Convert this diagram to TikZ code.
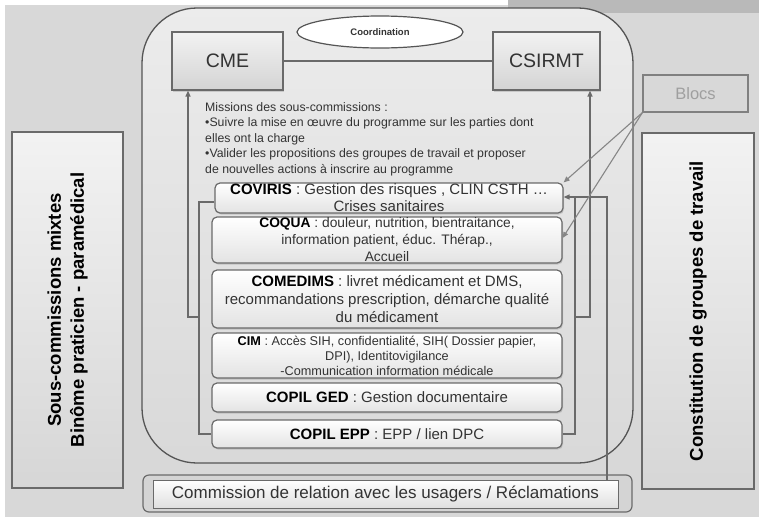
\documentclass[tikz,border=0pt]{standalone}
\usepackage{fontspec}
\setmainfont{Liberation Sans}
\usetikzlibrary{shadows,arrows.meta,calc,shapes.geometric}

\definecolor{bgc}{HTML}{D8D8D8}
\definecolor{edge}{HTML}{6A6A6A}
\definecolor{frame}{HTML}{555555}
\definecolor{ink}{HTML}{333333}
\newcommand\setfs[2]{\fontsize{#1}{#2}\selectfont}

\begin{document}
\begin{tikzpicture}[x=1pt,y=-1pt,
  conn/.style={draw=edge, line width=1.3pt},
  tip/.style={-{Triangle[length=6pt,width=5pt]}},
  subbox/.style={draw=edge, line width=1.2pt, rounded corners=5pt,
    top color=white, bottom color=gray!22, minimum width=350pt,
    inner sep=0pt, align=center, text=ink,
    drop shadow={shadow xshift=1pt, shadow yshift=-1.5pt, opacity=0.3}},
  topbox/.style={draw=edge, line width=1.2pt, top color=gray!10,
    bottom color=gray!34, inner sep=0pt, minimum height=58pt,
    font=\setfs{19.5}{22}, text=ink,
    drop shadow={shadow xshift=1pt, shadow yshift=-1.5pt, opacity=0.3}},
  sidebox/.style={draw=edge, line width=1.2pt, top color=gray!10,
    bottom color=gray!32, inner sep=0pt, minimum width=111pt,
    minimum height=356pt},
  sidetext/.style={rotate=90, align=center, text=black,
    font=\bfseries\setfs{18.5}{23}}
]
% page and background
\fill[white] (0,0) rectangle (759,517);
\fill[bgc] (5,5) rectangle (759,517);
\fill[gray!55] (508,0) rectangle (759,13);

% large rounded frame
\draw[frame, line width=1.3pt, rounded corners=55pt, top color=gray!15,
  bottom color=gray!30] (142,8) rectangle (633,463);

% top committees
\node[topbox, minimum width=111pt] (cme) at (227.5,61) {CME};
\node[topbox, minimum width=107pt] (csirmt) at (546.5,61) {CSIRMT};
\draw[conn] (cme) -- (csirmt);
\node[draw=frame, line width=1.2pt, fill=white, ellipse, minimum width=166pt,
  minimum height=32pt, inner sep=0pt, font=\bfseries\setfs{9.5}{11}, text=ink]
  (coord) at (380,32) {Coordination};

% missions text
\node[anchor=north west, inner sep=0pt, align=left, text=ink,
  font=\setfs{12.3}{15.5}] (missions) at (205,102)
  {Missions des sous-commissions :\\
   •Suivre la mise en œuvre du programme sur les parties dont\\
   elles ont la charge\\
   •Valider les propositions des groupes de travail et proposer\\
   de nouvelles actions à inscrire au programme};

% sub-commissions
\node[subbox, minimum width=348pt, minimum height=30pt,
  font=\setfs{15}{18}] (coviris) at (389,198)
  {\textcolor{black}{\bfseries COVIRIS} : Gestion des risques , CLIN CSTH …\\[-1pt]
   Crises sanitaires};
\node[subbox, minimum height=46pt, font=\setfs{13.8}{17}] (coqua) at (387,240)
  {\textcolor{black}{\bfseries COQUA} : douleur, nutrition, bientraitance,\\
   information patient, éduc. Thérap.,\\ Accueil};
\node[subbox, minimum height=58pt, font=\setfs{15}{18}] (comedims) at (387,299)
  {\textcolor{black}{\bfseries COMEDIMS} : livret médicament et DMS,\\
   recommandations prescription, démarche qualité\\ du médicament};
\node[subbox, minimum height=45pt, font=\setfs{12.7}{15}] (cim) at (387,355.5)
  {\textcolor{black}{\bfseries CIM} : Accès SIH, confidentialité, SIH( Dossier papier,\\
   DPI), Identitovigilance\\ -Communication information médicale};
\node[subbox, minimum height=29pt, font=\setfs{15}{18}] (ged) at (387,397.5)
  {\textcolor{black}{\bfseries COPIL GED} : Gestion documentaire};
\node[subbox, minimum height=28pt, font=\setfs{15}{18}] (epp) at (387,434)
  {\textcolor{black}{\bfseries COPIL EPP} : EPP / lien DPC};

% brackets and links up to CME and CSIRMT
\coordinate (lb) at (199,317);
\coordinate (rb) at (575,197);
\coordinate (rj) at (575,317);
\draw[conn] ([yshift=-4pt]coviris.west) -| (lb) |- (epp.west);
\draw[conn, tip] (lb) -| ([xshift=-39.5pt]cme.south);
\draw[conn] (epp.east) -| (rb);
\draw[conn, tip] (rj) -| ([xshift=43.5pt]csirmt.south);

% users' commission
\node[draw=edge, line width=1.2pt, rounded corners=6pt, fill=gray!34,
  minimum width=489pt, minimum height=37pt, inner sep=0pt] (crout) at (387.5,493.5) {};
\node[draw=edge, line width=0.8pt, top color=white, bottom color=gray!25,
  minimum width=465pt, minimum height=28pt, inner sep=0pt, text=ink,
  font=\setfs{17}{20}] (crin) at (385.5,494)
  {Commission de relation avec les usagers / Réclamations};
\draw[conn, tip] (crin.north -| 607,0) |- ([yshift=1pt]coviris.east);

% side boxes
\node[sidebox] (mixed) at (67.5,310) {};
\node[sidetext] (mixedtxt) at (mixed.center)
  {Sous-commissions mixtes\\ Binôme praticien - paramédical};
\node[sidebox, minimum width=112pt] (groups) at (698,311) {};
\node[sidetext] (groupstxt) at (groups.center) {Constitution de groupes de travail};

% blocks label and pointers
\node[draw=edge!85, line width=1.2pt, fill=bgc, minimum width=105pt,
  minimum height=37pt, inner sep=0pt, text=gray!75, font=\setfs{16.5}{19}]
  (blocs) at (695.5,93.5) {Blocs};
\draw[conn, draw=gray!95, line width=1.1pt, tip] (blocs.south west) -- (coviris.north east);
\draw[conn, draw=gray!95, line width=1.1pt, tip] (blocs.south west) -- ([yshift=2pt]coqua.east);
\end{tikzpicture}
\end{document}
